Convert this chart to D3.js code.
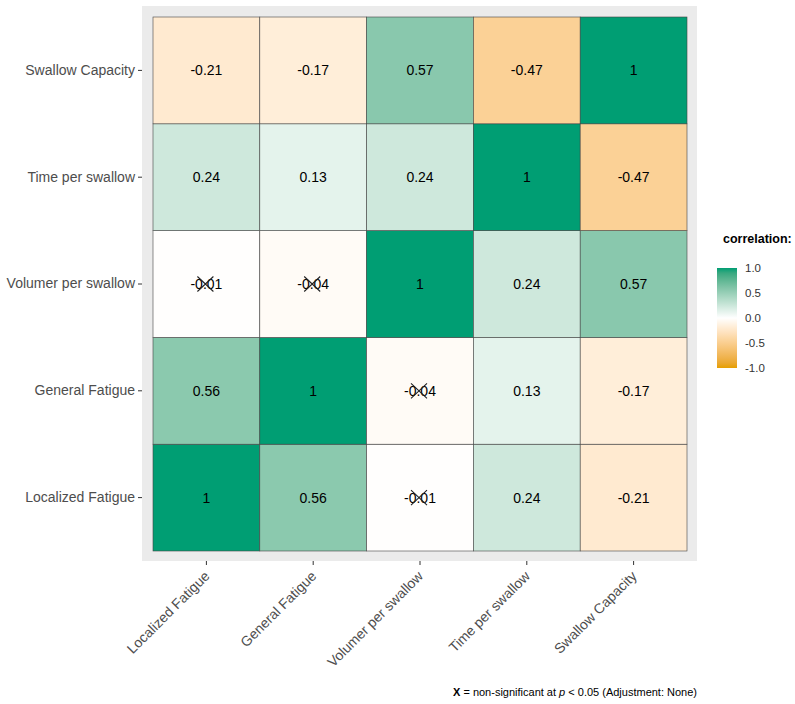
<!DOCTYPE html>
<html>
<head>
<meta charset="utf-8">
<script src="https://cdn.jsdelivr.net/npm/d3@7"></script>
<style>
  body { margin: 0; background: #fff; }
  text { font-family: "Liberation Sans", Arial, sans-serif; }
</style>
</head>
<body>
<div id="chart"></div>
<script>
// variables, in plot order (x left->right, y bottom->top)
const vars = ["Localized Fatigue", "General Fatigue", "Volumer per swallow", "Time per swallow", "Swallow Capacity"];

// correlation matrix rows follow vars
const corr = [
  [1.00, 0.56, -0.01, 0.24, -0.21],
  [0.56, 1.00, -0.04, 0.13, -0.17],
  [-0.01, -0.04, 1.00, 0.24, 0.57],
  [0.24, 0.13, 0.24, 1.00, -0.47],
  [-0.21, -0.17, 0.57, -0.47, 1.00]
];

// pairs that are not significant at p < 0.05
const nonSig = [
  ["Localized Fatigue", "Volumer per swallow"],
  ["General Fatigue", "Volumer per swallow"]
];

const legendTicks = [1.0, 0.5, 0.0, -0.5, -1.0];

const width = 795, height = 704;
const panel = { x0: 142, y0: 6, x1: 697, y1: 561 };
const cells = { x0: 153, y0: 17, x1: 687, y1: 551 };

const svg = d3.select("#chart").append("svg")
  .attr("width", width).attr("height", height);

const x = d3.scaleBand().domain(vars).range([cells.x0, cells.x1]);
const y = d3.scaleBand().domain(vars).range([cells.y1, cells.y0]);

const color = d3.scaleLinear()
  .domain([-1, 0, 1])
  .range(["#E69F00", "#FFFFFF", "#009E73"])
  .interpolate(d3.interpolateLab);

// grey panel background
svg.append("rect")
  .attr("x", panel.x0).attr("y", panel.y0)
  .attr("width", panel.x1 - panel.x0).attr("height", panel.y1 - panel.y0)
  .attr("fill", "#EBEBEB");

const data = [];
vars.forEach((a, i) => vars.forEach((b, j) => {
  const ns = nonSig.some(p => (p[0] === a && p[1] === b) || (p[0] === b && p[1] === a));
  data.push({ xv: a, yv: b, r: corr[i][j], ns });
}));

svg.append("g").selectAll("rect")
  .data(data).join("rect")
  .attr("x", d => x(d.xv)).attr("y", d => y(d.yv))
  .attr("width", x.bandwidth()).attr("height", y.bandwidth())
  .attr("fill", d => color(d.r))
  .attr("stroke", "#444").attr("stroke-width", 0.6);

// plain hyphen minus, like R prints
const fmt = v => String(+v.toFixed(2));

svg.append("g").selectAll("text")
  .data(data).join("text")
  .attr("x", d => x(d.xv) + x.bandwidth() / 2)
  .attr("y", d => y(d.yv) + y.bandwidth() / 2)
  .attr("text-anchor", "middle").attr("dominant-baseline", "central")
  .attr("font-size", 14).attr("fill", "#000")
  .text(d => fmt(d.r));

// crosses over non-significant cells
const sx = 8, sy = 7.5;
svg.append("g").selectAll("path")
  .data(data.filter(d => d.ns)).join("path")
  .attr("d", d => {
    const cx = x(d.xv) + x.bandwidth() / 2 - 1, cy = y(d.yv) + y.bandwidth() / 2;
    return `M${cx - sx},${cy - sy}L${cx + sx},${cy + sy}M${cx + sx},${cy - sy}L${cx - sx},${cy + sy}`;
  })
  .attr("stroke", "#222").attr("stroke-width", 1.1).attr("fill", "none");

// y axis
const yAxis = svg.append("g")
  .attr("transform", `translate(${panel.x0},0)`)
  .call(d3.axisLeft(y).tickSize(4).tickPadding(3));
yAxis.select(".domain").remove();
yAxis.selectAll("line").attr("stroke", "#333");
yAxis.selectAll("text").attr("font-size", 14).attr("fill", "#4D4D4D")
  .style("font-family", "Liberation Sans, Arial, sans-serif");

// x axis
const xAxis = svg.append("g")
  .attr("transform", `translate(0,${panel.y1})`)
  .call(d3.axisBottom(x).tickSize(4).tickPadding(3));
xAxis.select(".domain").remove();
xAxis.selectAll("line").attr("stroke", "#333");
xAxis.selectAll("text")
  .attr("font-size", 14).attr("fill", "#4D4D4D")
  .style("font-family", "Liberation Sans, Arial, sans-serif")
  .attr("text-anchor", "end")
  .attr("dy", null)
  .attr("y", 0)
  .attr("transform", "translate(4,16) rotate(-45)");

// legend
const lg = { x: 717, y0: 268, y1: 368, w: 20 };
svg.append("text")
  .attr("x", 723).attr("y", 243)
  .attr("font-size", 12.5).attr("font-weight", "bold").attr("fill", "#000")
  .text("correlation:");

const grad = svg.append("defs").append("linearGradient")
  .attr("id", "cbar").attr("x1", 0).attr("y1", 1).attr("x2", 0).attr("y2", 0);
d3.range(-1, 1.001, 0.1).forEach(v => {
  grad.append("stop").attr("offset", (v + 1) / 2).attr("stop-color", color(v));
});
svg.append("rect")
  .attr("x", lg.x).attr("y", lg.y0).attr("width", lg.w).attr("height", lg.y1 - lg.y0)
  .attr("fill", "url(#cbar)");

const ly = d3.scaleLinear().domain([-1, 1]).range([lg.y1, lg.y0]);
const lAxis = svg.append("g")
  .attr("transform", `translate(${lg.x + lg.w},0)`)
  .call(d3.axisRight(ly).tickValues(legendTicks).tickFormat(v => v.toFixed(1)).tickSize(0).tickPadding(8));
lAxis.select(".domain").remove();
lAxis.selectAll("text").attr("font-size", 11.5).attr("fill", "#333")
  .style("font-family", "Liberation Sans, Arial, sans-serif");

// caption
const cap = svg.append("text")
  .attr("x", 697).attr("y", 696).attr("text-anchor", "end")
  .attr("font-size", 11).attr("fill", "#000");
cap.append("tspan").attr("font-weight", "bold").text("X");
cap.append("tspan").text(" = non-significant at ");
cap.append("tspan").attr("font-style", "italic").text("p");
cap.append("tspan").text(" < 0.05 (Adjustment: None)");
</script>
</body>
</html>
